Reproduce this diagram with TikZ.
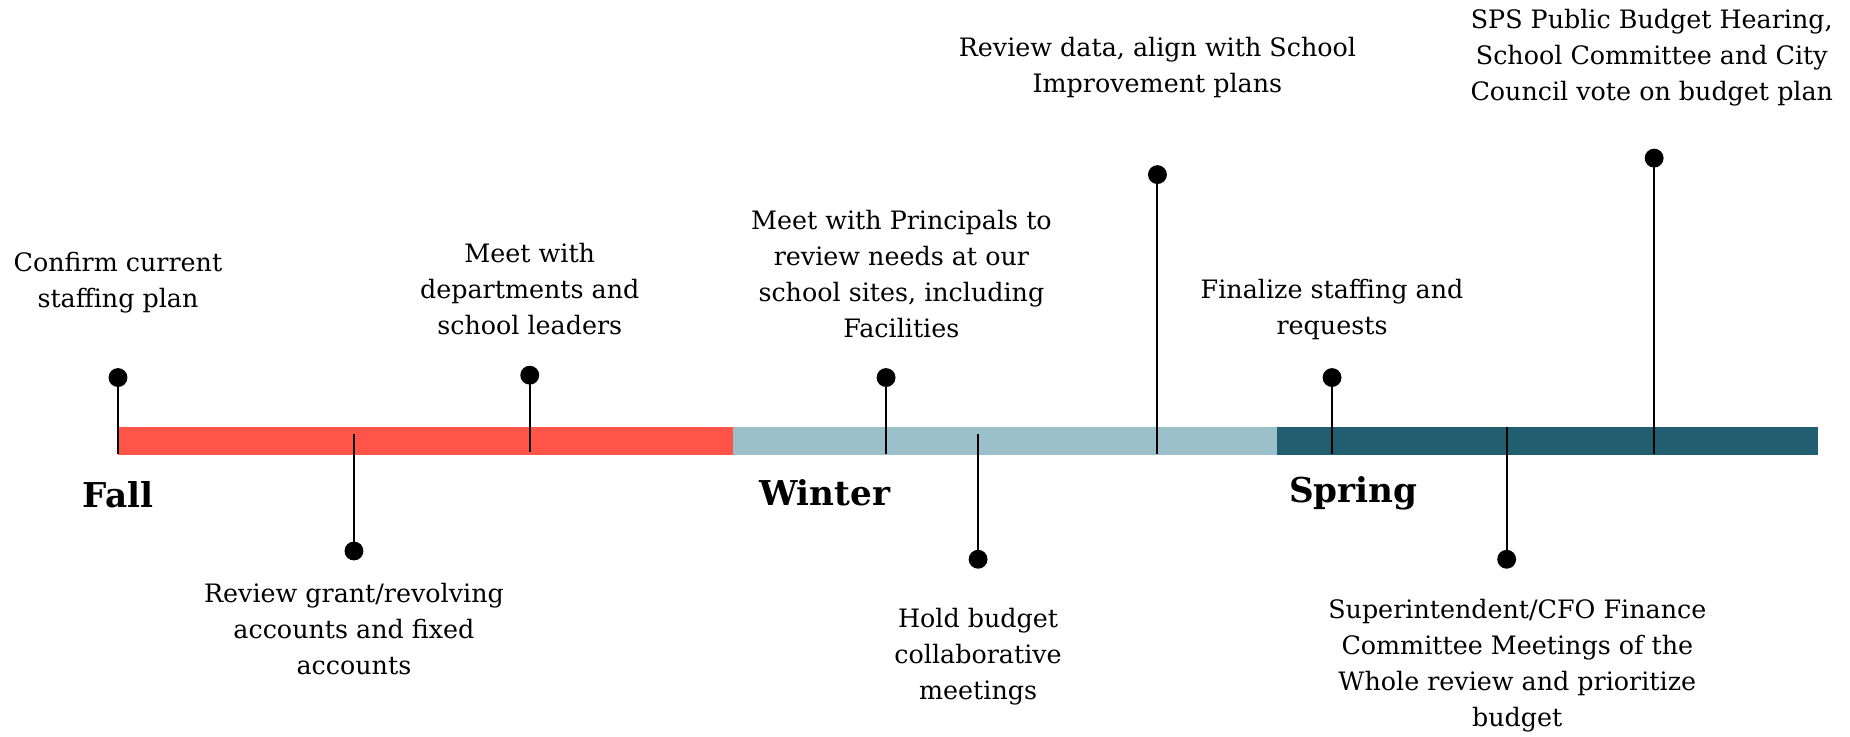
\documentclass[tikz,border=0pt]{standalone}
\usepackage{fontspec}
\setmainfont{DejaVu Serif}
\definecolor{fallc}{RGB}{255,84,71}
\definecolor{winterc}{RGB}{155,192,202}
\definecolor{springc}{RGB}{33,94,111}
\begin{document}
\begin{tikzpicture}[x=1pt,y=-1pt,
  dot/.style={circle,fill=black,inner sep=0pt,minimum size=16pt},
  stem/.style={line width=1.7pt,black},
  lbl/.style={align=center,inner sep=0pt,font=\fontsize{21.5}{30.5}\selectfont},
  season/.style={inner sep=0pt,font=\fontsize{29}{34}\selectfont\bfseries}]
\useasboundingbox (0,0) rectangle (1568,624);
% bar
\fill[fallc] (100,362) rectangle (621,386);
\fill[winterc] (621,362) rectangle (1082,386);
\fill[springc] (1082,362) rectangle (1541,386);
% seasons
\node[season] (fall) at (100,419) {Fall};
\node[season] (winter) at (699,418) {Winter};
\node[season] (spring) at (1147,418) {Spring};
% markers
\node[dot] (d1) at (100,320) {};
\coordinate (b1) at (100,385);
\node[dot] (d2) at (300,467) {};
\coordinate (b2) at (300,368);
\node[dot] (d3) at (449,318) {};
\coordinate (b3) at (449,383);
\node[dot] (d4) at (751,320) {};
\coordinate (b4) at (751,385);
\node[dot] (d5) at (829,474) {};
\coordinate (b5) at (829,368);
\node[dot] (d6) at (981,148) {};
\coordinate (b6) at (981,385);
\node[dot] (d7) at (1129,320) {};
\coordinate (b7) at (1129,385);
\node[dot] (d8) at (1277,474) {};
\coordinate (b8) at (1277,362);
\node[dot] (d9) at (1402,134) {};
\coordinate (b9) at (1402,385);
\foreach \i in {1,...,9} {\draw[stem] (d\i.center) -- (b\i);}
% labels
\node[lbl] (t1) at (100,240) {Confirm current\\staffing plan};
\node[lbl] (t2) at (300,533) {Review grant/revolving\\accounts and fixed\\accounts};
\node[lbl] (t3) at (449,245) {Meet with\\departments and\\school leaders};
\node[lbl] (t4) at (764,232.5) {Meet with Principals to\\review needs at our\\school sites, including\\Facilities};
\node[lbl] (t5) at (829,556.5) {Hold budget\\collaborative\\meetings};
\node[lbl] (t6) at (981,57.5) {Review data, align with School\\Improvement plans};
\node[lbl] (t7) at (1129,262.5) {Finalize staffing and\\requests};
\node[lbl] (t8) at (1286,564.5) {Superintendent/CFO Finance\\Committee Meetings of the\\Whole review and prioritize\\budget};
\node[lbl] (t9) at (1400,49) {SPS Public Budget Hearing,\\School Committee and City\\Council vote on budget plan};
\end{tikzpicture}
\end{document}
